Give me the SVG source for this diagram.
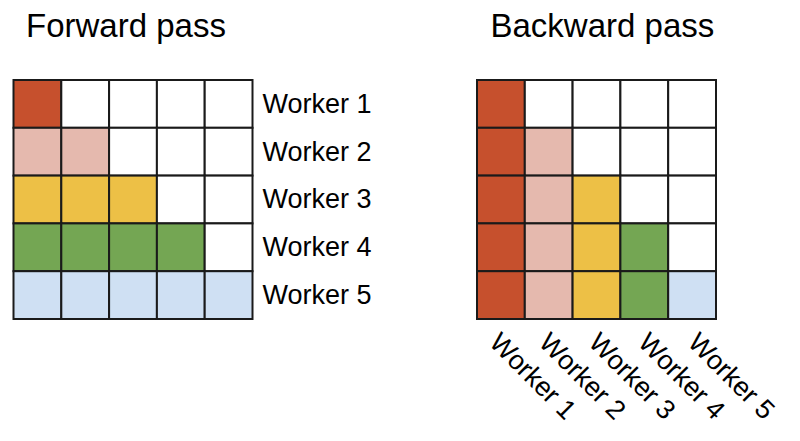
<svg xmlns="http://www.w3.org/2000/svg" width="800" height="441" viewBox="0 0 800 441">
<style>
text{font-family:"Liberation Sans",Arial,sans-serif;fill:#000}
.title{font-size:33px}
.lbl{font-size:27px}
.c{stroke:#1a1a1a;stroke-width:2}
.w{fill:#fff}.r{fill:#c6502d}.p{fill:#e5b9ae}.y{fill:#edc046}.g{fill:#74a653}.b{fill:#cfe0f3}
</style>
<rect width="800" height="441" fill="#fff"/>
<g id="forward">
<text class="title" x="26" y="37">Forward pass</text>
<g class="c">
<rect class="r" x="13.5" y="80" width="47.8" height="47.8"/>
<rect class="w" x="61.3" y="80" width="47.8" height="47.8"/>
<rect class="w" x="109.1" y="80" width="47.8" height="47.8"/>
<rect class="w" x="156.9" y="80" width="47.8" height="47.8"/>
<rect class="w" x="204.7" y="80" width="47.8" height="47.8"/>
<rect class="p" x="13.5" y="127.8" width="47.8" height="47.8"/>
<rect class="p" x="61.3" y="127.8" width="47.8" height="47.8"/>
<rect class="w" x="109.1" y="127.8" width="47.8" height="47.8"/>
<rect class="w" x="156.9" y="127.8" width="47.8" height="47.8"/>
<rect class="w" x="204.7" y="127.8" width="47.8" height="47.8"/>
<rect class="y" x="13.5" y="175.6" width="47.8" height="47.8"/>
<rect class="y" x="61.3" y="175.6" width="47.8" height="47.8"/>
<rect class="y" x="109.1" y="175.6" width="47.8" height="47.8"/>
<rect class="w" x="156.9" y="175.6" width="47.8" height="47.8"/>
<rect class="w" x="204.7" y="175.6" width="47.8" height="47.8"/>
<rect class="g" x="13.5" y="223.4" width="47.8" height="47.8"/>
<rect class="g" x="61.3" y="223.4" width="47.8" height="47.8"/>
<rect class="g" x="109.1" y="223.4" width="47.8" height="47.8"/>
<rect class="g" x="156.9" y="223.4" width="47.8" height="47.8"/>
<rect class="w" x="204.7" y="223.4" width="47.8" height="47.8"/>
<rect class="b" x="13.5" y="271.2" width="47.8" height="47.8"/>
<rect class="b" x="61.3" y="271.2" width="47.8" height="47.8"/>
<rect class="b" x="109.1" y="271.2" width="47.8" height="47.8"/>
<rect class="b" x="156.9" y="271.2" width="47.8" height="47.8"/>
<rect class="b" x="204.7" y="271.2" width="47.8" height="47.8"/>
</g>
<text class="lbl" x="262.5" y="112.7">Worker 1</text>
<text class="lbl" x="262.5" y="160.5">Worker 2</text>
<text class="lbl" x="262.5" y="208.3">Worker 3</text>
<text class="lbl" x="262.5" y="256.1">Worker 4</text>
<text class="lbl" x="262.5" y="303.9">Worker 5</text>
</g>
<g id="backward">
<text class="title" x="490.5" y="37">Backward pass</text>
<g class="c">
<rect class="r" x="477" y="80" width="47.8" height="47.8"/>
<rect class="w" x="524.8" y="80" width="47.8" height="47.8"/>
<rect class="w" x="572.6" y="80" width="47.8" height="47.8"/>
<rect class="w" x="620.4" y="80" width="47.8" height="47.8"/>
<rect class="w" x="668.2" y="80" width="47.8" height="47.8"/>
<rect class="r" x="477" y="127.8" width="47.8" height="47.8"/>
<rect class="p" x="524.8" y="127.8" width="47.8" height="47.8"/>
<rect class="w" x="572.6" y="127.8" width="47.8" height="47.8"/>
<rect class="w" x="620.4" y="127.8" width="47.8" height="47.8"/>
<rect class="w" x="668.2" y="127.8" width="47.8" height="47.8"/>
<rect class="r" x="477" y="175.6" width="47.8" height="47.8"/>
<rect class="p" x="524.8" y="175.6" width="47.8" height="47.8"/>
<rect class="y" x="572.6" y="175.6" width="47.8" height="47.8"/>
<rect class="w" x="620.4" y="175.6" width="47.8" height="47.8"/>
<rect class="w" x="668.2" y="175.6" width="47.8" height="47.8"/>
<rect class="r" x="477" y="223.4" width="47.8" height="47.8"/>
<rect class="p" x="524.8" y="223.4" width="47.8" height="47.8"/>
<rect class="y" x="572.6" y="223.4" width="47.8" height="47.8"/>
<rect class="g" x="620.4" y="223.4" width="47.8" height="47.8"/>
<rect class="w" x="668.2" y="223.4" width="47.8" height="47.8"/>
<rect class="r" x="477" y="271.2" width="47.8" height="47.8"/>
<rect class="p" x="524.8" y="271.2" width="47.8" height="47.8"/>
<rect class="y" x="572.6" y="271.2" width="47.8" height="47.8"/>
<rect class="g" x="620.4" y="271.2" width="47.8" height="47.8"/>
<rect class="b" x="668.2" y="271.2" width="47.8" height="47.8"/>
</g>
<text class="lbl" transform="translate(488,344) rotate(45)">Worker 1</text>
<text class="lbl" transform="translate(537.6,344) rotate(45)">Worker 2</text>
<text class="lbl" transform="translate(587.2,344) rotate(45)">Worker 3</text>
<text class="lbl" transform="translate(636.8,344) rotate(45)">Worker 4</text>
<text class="lbl" transform="translate(686.4,344) rotate(45)">Worker 5</text>
</g>
</svg>
